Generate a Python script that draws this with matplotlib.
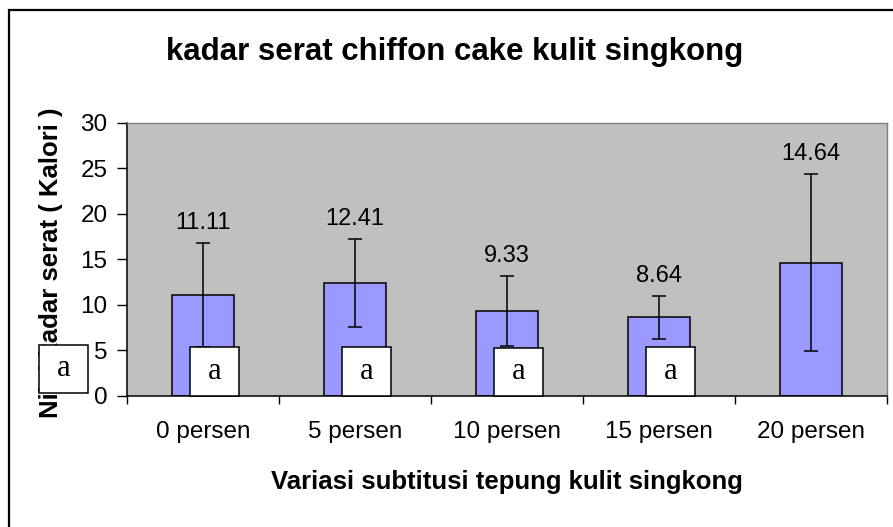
import matplotlib
matplotlib.use("Agg")
import matplotlib.pyplot as plt
from matplotlib.patches import Rectangle
import numpy as np

# ---- data ----
categories = ["0 persen", "5 persen", "10 persen", "15 persen", "20 persen"]
values = [11.11, 12.41, 9.33, 8.64, 14.64]
errors = [5.7, 4.85, 3.8, 2.35, 9.7]
letters = ["a", "a", "a", "a", "a"]
y_ticks = [0, 5, 10, 15, 20, 25, 30]
title = "kadar serat chiffon cake kulit singkong"
x_label = "Variasi subtitusi tepung kulit singkong"
y_label = "Nilai kadar serat ( Kalori )"

# ---- layout constants ----
W, H = 893, 527
SANS = ["Liberation Sans", "DejaVu Sans"]
SERIF = ["Liberation Serif", "DejaVu Serif"]
plt.rcParams["font.family"] = SANS

fig = plt.figure(figsize=(W / 100, H / 100), dpi=100)
fig.patch.set_facecolor("white")
ax_l, ax_r, ax_t, ax_b = 127, 887, 122.7, 396
ax = fig.add_axes([ax_l / W, 1 - ax_b / H, (ax_r - ax_l) / W, (ax_b - ax_t) / H])
ax.set_facecolor("#C0C0C0")

x = np.arange(len(categories))
ax.bar(x, values, width=0.41, color="#9999FF", edgecolor="black", linewidth=1.1,
       yerr=errors, error_kw=dict(ecolor="black", elinewidth=1.1, capsize=4.7, capthick=1.1),
       zorder=2)

for xi, v, e in zip(x, values, errors):
    ax.annotate(f"{v:.2f}", xy=(xi, v + e), xytext=(0, 10), textcoords="offset points",
                ha="center", va="baseline", fontsize=17, color="black", zorder=3)

# y label drawn inside the axes' artist list so the letter box can cover it
ax.text(51 / W, 1 - 263 / H, y_label, ha="center", va="center", rotation=90,
        fontsize=18.5, fontweight="bold", transform=fig.transFigure, zorder=1,
        clip_on=False)

# letter boxes (one per bar; the last one sits misplaced at the far left as in the source)
box_w, box_h = 0.322, 5.3
box_left = [xi - 0.085 for xi in x[:4]] + [-1.08]
box_bottom = [0.05, 0.05, 0.0, 0.05, 0.33]
for bl, bb, letter in zip(box_left, box_bottom, letters):
    ax.add_patch(Rectangle((bl, bb), box_w, box_h, facecolor="white", edgecolor="black",
                           linewidth=1.1, zorder=4, clip_on=False))
    ax.text(bl + box_w / 2, bb + box_h / 2, letter, ha="center", va="center",
            fontsize=22, family=SERIF, zorder=5, clip_on=False)

ax.set_xlim(-0.5, len(categories) - 0.5)
ax.set_ylim(0, 30)
ax.set_yticks(y_ticks)
ax.set_xticks(x)
ax.set_xticklabels(categories, fontsize=17.5)
ax.set_xticks(np.arange(-0.5, len(categories), 1.0), minor=True)
ax.tick_params(axis="x", which="major", length=0, pad=18)
ax.tick_params(axis="x", which="minor", length=6, width=1, direction="out", color="black")
ax.tick_params(axis="y", labelsize=17.5, length=7, width=1, direction="out", pad=7)

for s in ["left", "bottom"]:
    ax.spines[s].set_color("black")
    ax.spines[s].set_linewidth(1.1)
for s in ["top", "right"]:
    ax.spines[s].set_color("#808080")
    ax.spines[s].set_linewidth(1.0)

# texts
fig.text(455 / W, 1 - 60 / H, title, ha="center", va="baseline", fontsize=22.5,
         fontweight="bold")
fig.text(507 / W, 1 - 489 / H, x_label, ha="center", va="baseline", fontsize=18.5,
         fontweight="bold")

# outer chart border (cropped at right and bottom)
fig.add_artist(Rectangle((8.5 / W, -0.1), 1.2, (H - 9.5) / H + 0.1, transform=fig.transFigure,
                         fill=False, edgecolor="black", linewidth=1.6))

fig.savefig("out.png", dpi=100, facecolor="white")
